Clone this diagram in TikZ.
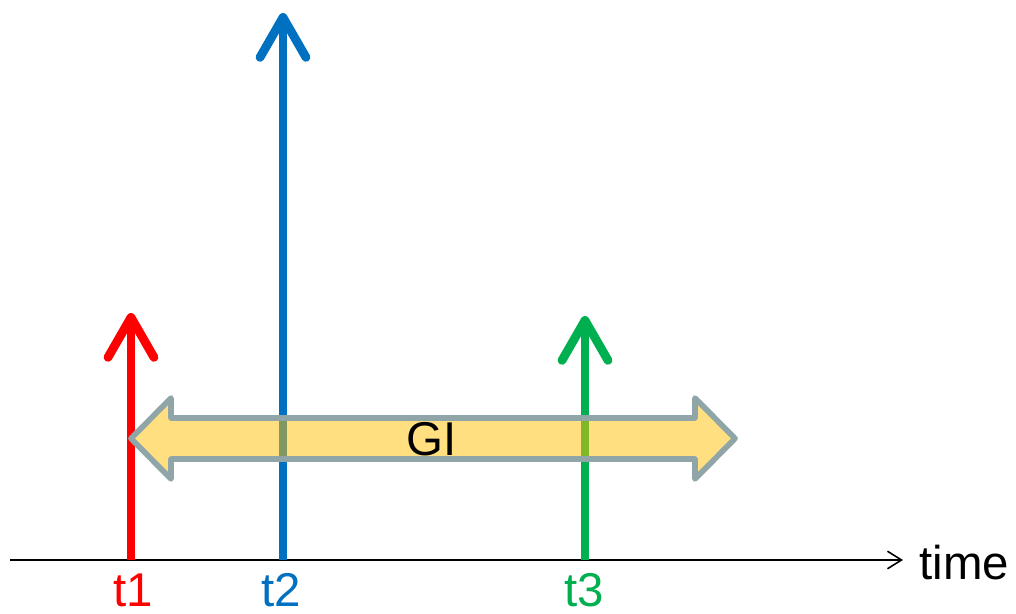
\documentclass[tikz,border=0pt]{standalone}
\usepackage{fontspec}
\setmainfont{Liberation Sans}
\usetikzlibrary{arrows.meta}

\definecolor{pulsered}{HTML}{FF0000}
\definecolor{pulseblue}{HTML}{0070C0}
\definecolor{pulsegreen}{HTML}{00B050}
\definecolor{giborder}{HTML}{8FA5A8}
\definecolor{gifill}{HTML}{FFC000}

\begin{document}
\begin{tikzpicture}[
    x=0.02cm, y=-0.02cm,
    pulse/.style={line width=5pt, -{Straight Barb[length=0.8cm, width=0.92cm, round]}},
    label/.style={anchor=base, font=\fontsize{27}{30}\selectfont, inner sep=0pt},
    axis/.style={line width=0.9pt, -{Straight Barb[length=8pt, width=10pt]}}
]
\useasboundingbox (0,0) rectangle (1016,614);

% Time axis
\coordinate (o) at (10,560);
\coordinate (e) at (903,560);
\draw[axis] (o) -- (e);
\node[label, anchor=base west] (time) at (919,579) {time};

% Pulses
\coordinate (b1) at (131,560);
\coordinate (a1) at (131,313);
\coordinate (b2) at (283,560);
\coordinate (a2) at (283,13);
\coordinate (b3) at (585,560);
\coordinate (a3) at (585,316);
\draw[pulse, pulsered] (b1) -- (a1);
\draw[pulse, pulseblue] (b2) -- (a2);
\draw[pulse, pulsegreen] (b3) -- (a3);

% Pulse labels
\node[label, text=pulsered] (l1) at (133,606) {t1};
\node[label, text=pulseblue] (l2) at (281,606) {t2};
\node[label, text=pulsegreen] (l3) at (584,606) {t3};

% Guard interval
\draw[giborder, line width=3.2pt, line join=round, fill=gifill, fill opacity=0.5]
    (131,438.5) -- (171,398) -- (171,418) -- (695,418) -- (695,398)
    -- (735,438.5) -- (695,479) -- (695,459) -- (171,459) -- (171,479) -- cycle;
\node[label] (gi) at (431.5,455) {GI};

\end{tikzpicture}
\end{document}
